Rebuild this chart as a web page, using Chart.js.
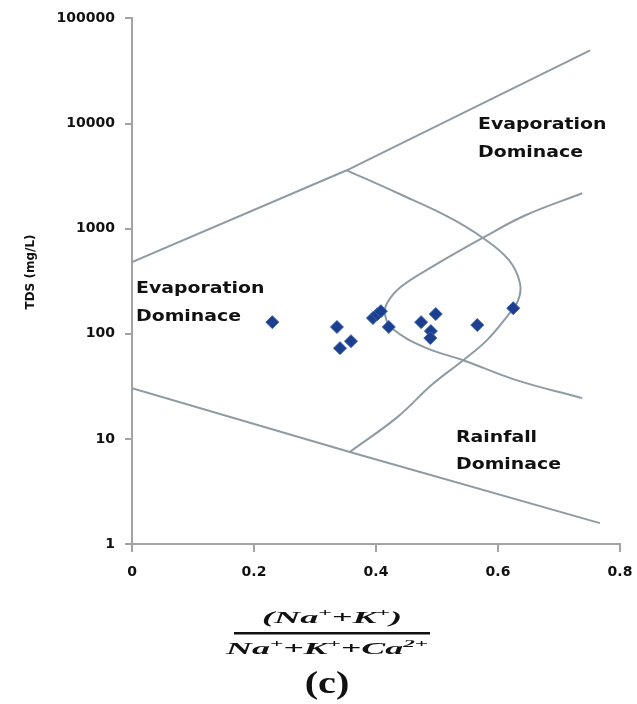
<!DOCTYPE html>
<html>
<head>
<meta charset="utf-8">
<script src="https://cdn.jsdelivr.net/npm/chart.js@4"></script>
<style>
  body { margin: 0; background: #fff; }
  #wrap { width: 637px; height: 704px; position: relative; }
</style>
</head>
<body>
<div id="wrap"><canvas id="gibbs"></canvas></div>
<script>
// samples: Na+K / (Na+K+Ca) against TDS (mg/L)
const ratio = [0.23, 0.336, 0.341, 0.359, 0.395, 0.402, 0.408, 0.421, 0.474, 0.498, 0.490, 0.489, 0.566, 0.625];
const tds   = [129,  116,   73,    85,    141,   153,   164,   116,   129,   154,   106,   91,    121,   175];

// Gibbs boundary lines
const upperX = [0, 0.352, 0.751];
const upperY = [480, 3590, 49600];
const lowerX = [0, 0.357, 0.767];
const lowerY = [30.4, 7.5, 1.58];

// the bulge from the upper junction round to the lower junction
const bulgeX = [0.352, 0.436, 0.520, 0.576, 0.618, 0.636, 0.633, 0.614, 0.582, 0.543, 0.491, 0.435, 0.357];
const bulgeY = [3590, 2170, 1283, 811, 501, 303, 208, 144, 87, 56, 32.5, 16.1, 7.5];

// the inner C curve opening to the right
const innerX = [0.738, 0.645, 0.574, 0.491, 0.440, 0.418, 0.415, 0.426, 0.479, 0.543, 0.630, 0.738];
const innerY = [2170, 1341, 811, 430, 277, 195, 150, 113, 74.6, 56, 36.2, 24.4];

const xTicks = [0, 0.2, 0.4, 0.6, 0.8];
const xTickLabels = ["0", "0.2", "0.4", "0.6", "0.8"];
const yTicks = [1, 10, 100, 1000, 10000, 100000];
const yTickLabels = ["1", "10", "100", "1000", "10000", "100000"];

function pts(xs, ys) {
  return xs.map((x, i) => ({ x: x, y: ys[i] }));
}

const lineGrey = "#8e9ba2";
const axisGrey = "#a3a3a3";

function curve(xs, ys, tension) {
  return {
    data: pts(xs, ys),
    showLine: true,
    borderColor: lineGrey,
    borderWidth: 2,
    pointRadius: 0,
    tension: tension,
    fill: false
  };
}

// draws a run of text pieces, some raised, stretched to a given width
function drawRich(ctx, segs, cx, y, width, size) {
  const fam = "'Liberation Serif', serif";
  let total = 0;
  segs.forEach(s => {
    ctx.font = `italic bold ${s.sup ? Math.round(size * 0.62) : size}px ${fam}`;
    total += ctx.measureText(s.t).width;
  });
  const sx = width / total;
  ctx.save();
  ctx.translate(cx - width / 2, y);
  ctx.scale(sx, 1);
  ctx.textBaseline = "middle";
  ctx.textAlign = "left";
  let x = 0;
  segs.forEach(s => {
    ctx.font = `italic bold ${s.sup ? Math.round(size * 0.62) : size}px ${fam}`;
    ctx.fillText(s.t, x, s.sup ? -size * 0.32 : 0);
    x += ctx.measureText(s.t).width;
  });
  ctx.restore();
}

function drawWide(ctx, text, x, y, sx) {
  ctx.save();
  ctx.translate(x, y);
  ctx.scale(sx, 1);
  ctx.fillText(text, 0, 0);
  ctx.restore();
}

const textPlugin = {
  id: "gibbsText",
  afterDraw(chart) {
    const ctx = chart.ctx;
    ctx.save();
    ctx.fillStyle = "#111";

    // region labels
    ctx.font = "bold 16px 'DejaVu Sans'";
    ctx.textBaseline = "middle";
    ctx.textAlign = "left";
    const sx = 1.18;
    drawWide(ctx, "Evaporation", 136, 289, sx);
    drawWide(ctx, "Dominace", 136, 317, sx);
    drawWide(ctx, "Evaporation", 478, 125, sx);
    drawWide(ctx, "Dominace", 478, 153, sx);
    drawWide(ctx, "Rainfall", 456, 438, sx);
    drawWide(ctx, "Dominace", 456, 465, sx);

    // y axis title
    ctx.save();
    ctx.translate(31, 272);
    ctx.rotate(-Math.PI / 2);
    ctx.textAlign = "center";
    ctx.font = "bold 12px 'DejaVu Sans'";
    ctx.fillText("TDS (mg/L)", 0, 0);
    ctx.restore();

    // x axis title as a fraction
    drawRich(ctx, [
      { t: "(Na" }, { t: "+", sup: true }, { t: "+K" }, { t: "+", sup: true }, { t: ")" }
    ], 332, 619, 140, 17);
    ctx.fillRect(234, 632, 196, 2.5);
    drawRich(ctx, [
      { t: "Na" }, { t: "+", sup: true }, { t: "+K" }, { t: "+", sup: true },
      { t: "+Ca" }, { t: "2+", sup: true }
    ], 327, 650, 202, 17);

    // panel letter
    ctx.font = "bold 31px 'Liberation Serif'";
    ctx.textAlign = "center";
    ctx.textBaseline = "middle";
    ctx.save();
    ctx.translate(327, 685);
    ctx.scale(1.3, 1);
    ctx.fillText("(c)", 0, 0);
    ctx.restore();

    ctx.restore();
  }
};

new Chart(document.getElementById("gibbs"), {
  type: "scatter",
  data: {
    datasets: [
      {
        data: pts(ratio, tds),
        pointStyle: "rectRot",
        pointRadius: 6.5,
        backgroundColor: "#1d3d8f",
        borderColor: "#3566aa",
        borderWidth: 1
      },
      curve(upperX, upperY, 0),
      curve(lowerX, lowerY, 0),
      curve(bulgeX, bulgeY, 0.4),
      curve(innerX, innerY, 0.4)
    ]
  },
  options: {
    responsive: true,
    maintainAspectRatio: false,
    animation: false,
    events: [],
    layout: { padding: { top: 18, right: 17, left: 0, bottom: 0 } },
    plugins: {
      legend: { display: false },
      tooltip: { enabled: false }
    },
    scales: {
      x: {
        type: "linear",
        min: 0,
        max: 0.8,
        afterBuildTicks: s => { s.ticks = xTicks.map(v => ({ value: v })); },
        afterFit: s => { s.height = 160; s.paddingLeft = 0; s.paddingRight = 0; },
        ticks: {
          autoSkip: false,
          maxRotation: 0,
          padding: 12,
          color: "#111",
          font: { family: "DejaVu Sans", size: 14, weight: "bold" },
          callback: (v, i) => xTickLabels[i]
        },
        grid: { drawOnChartArea: false, tickLength: 8, color: axisGrey, lineWidth: 2 },
        border: { color: axisGrey, width: 2 }
      },
      y: {
        type: "logarithmic",
        min: 1,
        max: 100000,
        afterBuildTicks: s => { s.ticks = yTicks.map(v => ({ value: v })); },
        afterFit: s => { s.width = 132; },
        ticks: {
          autoSkip: false,
          padding: 10,
          color: "#111",
          font: { family: "DejaVu Sans", size: 14, weight: "bold" },
          callback: (v, i) => yTickLabels[i]
        },
        grid: { drawOnChartArea: false, tickLength: 7, color: axisGrey, lineWidth: 2 },
        border: { color: axisGrey, width: 2 }
      }
    }
  },
  plugins: [textPlugin]
});
</script>
</body>
</html>
